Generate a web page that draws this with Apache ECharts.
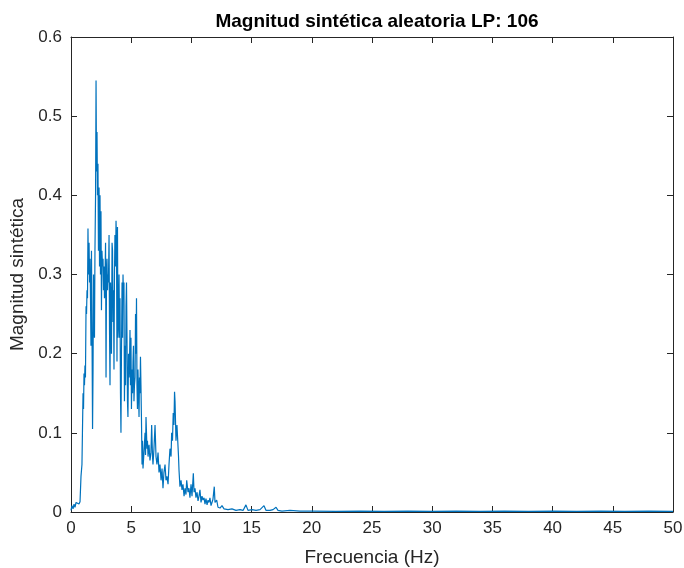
<!DOCTYPE html>
<html>
<head>
<meta charset="utf-8">
<script src="https://cdn.jsdelivr.net/npm/echarts@6/dist/echarts.min.js"></script>
<style>
  html, body { margin: 0; padding: 0; background: #fff; }
  #chart { width: 684px; height: 568px; }
</style>
</head>
<body>
<div id="chart"></div>
<script>
// espectro (frecuencia en Hz, magnitud)
var freqHz = [
  0, 0.08, 0.17, 0.25, 0.33, 0.42, 0.50, 0.58, 0.66, 0.75, 0.83, 0.91, 0.95, 1.00, 1.04, 1.08, 1.12, 1.16, 1.20,
  1.25, 1.29, 1.33, 1.37, 1.41, 1.45, 1.50, 1.54, 1.58, 1.62, 1.66, 1.70, 1.74, 1.79, 1.83, 1.87, 1.91, 1.95, 1.99,
  2.04, 2.08, 2.12, 2.16, 2.20, 2.24, 2.28, 2.33, 2.37, 2.41, 2.45, 2.49, 2.53, 2.57, 2.62, 2.66, 2.70, 2.74, 2.78,
  2.82, 2.87, 2.91, 2.95, 2.99, 3.03, 3.07, 3.11, 3.16, 3.20, 3.24, 3.28, 3.32, 3.36, 3.41, 3.45, 3.49, 3.53, 3.57,
  3.61, 3.65, 3.70, 3.74, 3.78, 3.82, 3.86, 3.90, 3.95, 3.99, 4.03, 4.07, 4.11, 4.15, 4.19, 4.24, 4.28, 4.32, 4.36,
  4.40, 4.44, 4.49, 4.53, 4.57, 4.61, 4.65, 4.69, 4.73, 4.78, 4.82, 4.86, 4.90, 4.94, 4.98, 5.02, 5.07, 5.11, 5.15,
  5.19, 5.23, 5.27, 5.32, 5.36, 5.40, 5.44, 5.48, 5.52, 5.56, 5.61, 5.65, 5.69, 5.73, 5.77, 5.81, 5.85, 5.90, 5.94,
  5.98, 6.06, 6.15, 6.19, 6.23, 6.31, 6.35, 6.40, 6.48, 6.56, 6.64, 6.70, 6.77, 6.81, 6.89, 6.98, 7.06, 7.14, 7.23,
  7.31, 7.39, 7.48, 7.56, 7.64, 7.72, 7.81, 7.89, 7.97, 8.06, 8.14, 8.22, 8.31, 8.36, 8.43, 8.49, 8.55, 8.60, 8.64,
  8.72, 8.80, 8.86, 8.93, 8.97, 9.05, 9.14, 9.22, 9.30, 9.39, 9.47, 9.55, 9.61, 9.72, 9.80, 9.88, 9.97, 10.05, 10.16,
  10.22, 10.30, 10.38, 10.47, 10.55, 10.63, 10.71, 10.80, 10.88, 10.96, 11.05, 11.13, 11.21, 11.30, 11.38, 11.46,
  11.54, 11.63, 11.71, 11.79, 11.90, 11.96, 12.10, 12.21, 12.38, 12.54, 12.71, 12.87, 13.04, 13.37, 13.70, 14.04,
  14.29, 14.53, 14.70, 15.03, 15.37, 15.70, 16.03, 16.20, 16.53, 16.78, 17.03, 17.19, 17.52, 18.19, 19.02, 20, 22,
  24, 26, 28, 30, 32, 34, 36, 38, 40, 42, 44, 46, 48, 50
];
var magnitud = [
  0.002, 0.008, 0.004, 0.010, 0.006, 0.012, 0.011, 0.014, 0.010, 0.013, 0.045, 0.06, 0.10, 0.15, 0.13, 0.175, 0.16, 0.185, 0.17,
  0.26, 0.25, 0.28, 0.27, 0.358, 0.30, 0.34, 0.29, 0.32, 0.27, 0.21, 0.33, 0.24, 0.105, 0.18, 0.30, 0.25, 0.22, 0.33,
  0.40, 0.545, 0.43, 0.48, 0.40, 0.44, 0.33, 0.41, 0.31, 0.40, 0.30, 0.38, 0.255, 0.33, 0.31, 0.32, 0.28, 0.31, 0.27,
  0.29, 0.34, 0.17, 0.30, 0.32, 0.28, 0.30, 0.29, 0.35, 0.23, 0.16, 0.29, 0.26, 0.20, 0.34, 0.33, 0.24, 0.28, 0.18,
  0.30, 0.35, 0.31, 0.368, 0.34, 0.19, 0.36, 0.22, 0.24, 0.30, 0.22, 0.27, 0.15, 0.10, 0.20, 0.29, 0.22, 0.30, 0.27,
  0.29, 0.14, 0.21, 0.16, 0.26, 0.29, 0.22, 0.14, 0.12, 0.20, 0.17, 0.19, 0.23, 0.16, 0.22, 0.13, 0.18, 0.15, 0.19,
  0.21, 0.14, 0.16, 0.17, 0.25, 0.20, 0.27, 0.16, 0.13, 0.18, 0.15, 0.12, 0.17, 0.15, 0.196, 0.16, 0.12, 0.06, 0.09,
  0.055, 0.075, 0.10, 0.072, 0.12, 0.08, 0.09, 0.07, 0.085, 0.065, 0.075, 0.11, 0.07, 0.06, 0.08, 0.11, 0.07, 0.06, 0.075,
  0.05, 0.06, 0.04, 0.055, 0.03, 0.05, 0.06, 0.04, 0.045, 0.035, 0.06, 0.08, 0.07, 0.10, 0.09, 0.125, 0.11, 0.152, 0.14,
  0.09, 0.11, 0.112, 0.07, 0.053, 0.032, 0.04, 0.028, 0.035, 0.02, 0.03, 0.022, 0.04, 0.025, 0.03, 0.018, 0.035, 0.02, 0.049,
  0.025, 0.03, 0.018, 0.025, 0.014, 0.02, 0.028, 0.012, 0.02, 0.015, 0.018, 0.01, 0.017, 0.009, 0.015, 0.012,
  0.018, 0.008, 0.012, 0.016, 0.032, 0.012, 0.015, 0.006, 0.005, 0.008, 0.004, 0.005, 0.003, 0.004, 0.002, 0.003,
  0.002, 0.009, 0.002, 0.003, 0.002, 0.003, 0.008, 0.002, 0.002, 0.003, 0.006, 0.002, 0.001, 0.002, 0.001, 0.001, 0.0008,
  0.001, 0.0008, 0.001, 0.0008, 0.001, 0.0008, 0.001, 0.0008, 0.001, 0.0008, 0.001, 0.0008, 0.001, 0.0008, 0.001
];
var xTicks = [0, 5, 10, 15, 20, 25, 30, 35, 40, 45, 50];
var yTicks = [0, 0.1, 0.2, 0.3, 0.4, 0.5, 0.6];

var puntos = freqHz.map(function (f, i) { return [f, magnitud[i]]; });

var ejeColor = '#262626';
var fuente = 'Arial, "Liberation Sans", sans-serif';

var chart = echarts.init(document.getElementById('chart'));
chart.setOption({
  animation: false,
  title: {
    text: 'Magnitud sintética aleatoria LP: 106',
    left: 372,
    textAlign: 'center',
    top: 7,
    textStyle: { fontSize: 19, fontWeight: 'bold', color: '#000', fontFamily: fuente }
  },
  grid: { left: 71, right: 11, top: 37, bottom: 56, outerBoundsMode: 'none' },
  xAxis: [{
    type: 'value',
    min: xTicks[0],
    max: xTicks[xTicks.length - 1],
    interval: 5,
    name: 'Frecuencia (Hz)',
    nameLocation: 'middle',
    nameGap: 36,
    nameTextStyle: { fontSize: 19, color: ejeColor, fontFamily: fuente },
    axisLine: { onZero: false, lineStyle: { color: ejeColor, width: 1 } },
    axisTick: { inside: true, length: 6, lineStyle: { color: ejeColor } },
    axisLabel: { fontSize: 17, color: ejeColor, fontFamily: fuente, margin: 8 },
    splitLine: { show: false }
  }, {
    type: 'value',
    position: 'top',
    min: xTicks[0],
    max: xTicks[xTicks.length - 1],
    interval: 5,
    axisLine: { onZero: false, lineStyle: { color: ejeColor, width: 1 } },
    axisTick: { inside: true, length: 6, lineStyle: { color: ejeColor } },
    axisLabel: { show: false },
    splitLine: { show: false }
  }],
  yAxis: [{
    type: 'value',
    min: yTicks[0],
    max: yTicks[yTicks.length - 1],
    interval: 0.1,
    name: 'Magnitud sintética',
    nameLocation: 'middle',
    nameGap: 44,
    nameTextStyle: { fontSize: 19, color: ejeColor, fontFamily: fuente },
    axisLine: { show: true, onZero: false, lineStyle: { color: ejeColor, width: 1 } },
    axisTick: { show: true, inside: true, length: 6, lineStyle: { color: ejeColor } },
    axisLabel: { fontSize: 17, color: ejeColor, fontFamily: fuente, margin: 9 },
    splitLine: { show: false }
  }, {
    type: 'value',
    position: 'right',
    min: yTicks[0],
    max: yTicks[yTicks.length - 1],
    interval: 0.1,
    axisLine: { show: true, onZero: false, lineStyle: { color: ejeColor, width: 1 } },
    axisTick: { show: true, inside: true, length: 6, lineStyle: { color: ejeColor } },
    axisLabel: { show: false },
    splitLine: { show: false }
  }],
  series: [{
    type: 'line',
    data: puntos,
    xAxisIndex: 0,
    yAxisIndex: 0,
    showSymbol: false,
    lineStyle: { color: '#0072BD', width: 1.2 },
    itemStyle: { color: '#0072BD' }
  }]
});
</script>
</body>
</html>
